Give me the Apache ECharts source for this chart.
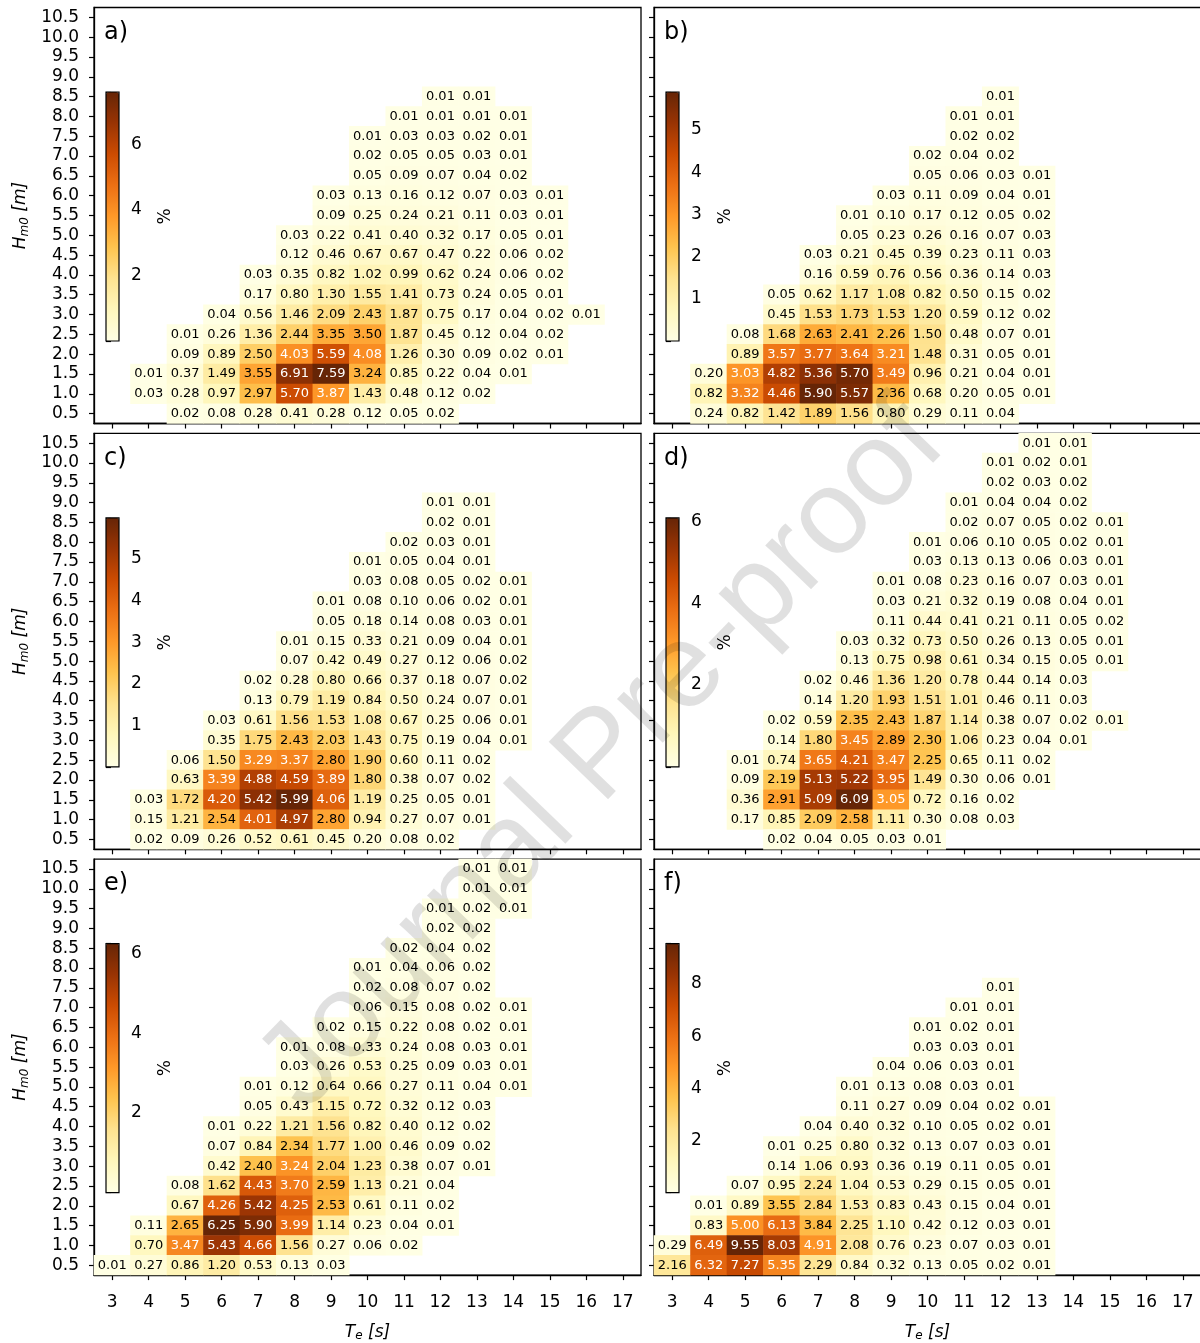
<!DOCTYPE html>
<html>
<head>
<meta charset="utf-8">
<title>Hm0 - Te occurrence</title>
<script src="https://cdn.jsdelivr.net/npm/echarts@6/dist/echarts.min.js"></script>
<style>
    html, body {margin: 0; padding: 0; background: #fff;}
    #chart {width: 1200px; height: 1343px;}
</style>
</head>
<body>
<div id="chart"></div>
<script>
// axes
var xLabels = ['3', '4', '5', '6', '7', '8', '9', '10', '11', '12', '13', '14', '15', '16', '17'];
var yLabels = ['0.5', '1.0', '1.5', '2.0', '2.5', '3.0', '3.5', '4.0', '4.5', '5.0',
    '5.5', '6.0', '6.5', '7.0', '7.5', '8.0', '8.5', '9.0', '9.5', '10.0', '10.5'];
var panelNames = ['a)', 'b)', 'c)', 'd)', 'e)', 'f)'];
var cbarSteps = [2, 1, 1, 2, 2, 2];

// rows: [Hm0, first Te of the row, occurrence % from that Te on]
var dataA = [
    [8.5, 12, [0.01, 0.01]],
    [8.0, 11, [0.01, 0.01, 0.01, 0.01]],
    [7.5, 10, [0.01, 0.03, 0.03, 0.02, 0.01]],
    [7.0, 10, [0.02, 0.05, 0.05, 0.03, 0.01]],
    [6.5, 10, [0.05, 0.09, 0.07, 0.04, 0.02]],
    [6.0, 9, [0.03, 0.13, 0.16, 0.12, 0.07, 0.03, 0.01]],
    [5.5, 9, [0.09, 0.25, 0.24, 0.21, 0.11, 0.03, 0.01]],
    [5.0, 8, [0.03, 0.22, 0.41, 0.40, 0.32, 0.17, 0.05, 0.01]],
    [4.5, 8, [0.12, 0.46, 0.67, 0.67, 0.47, 0.22, 0.06, 0.02]],
    [4.0, 7, [0.03, 0.35, 0.82, 1.02, 0.99, 0.62, 0.24, 0.06, 0.02]],
    [3.5, 7, [0.17, 0.80, 1.30, 1.55, 1.41, 0.73, 0.24, 0.05, 0.01]],
    [3.0, 6, [0.04, 0.56, 1.46, 2.09, 2.43, 1.87, 0.75, 0.17, 0.04, 0.02, 0.01]],
    [2.5, 5, [0.01, 0.26, 1.36, 2.44, 3.35, 3.50, 1.87, 0.45, 0.12, 0.04, 0.02]],
    [2.0, 5, [0.09, 0.89, 2.50, 4.03, 5.59, 4.08, 1.26, 0.30, 0.09, 0.02, 0.01]],
    [1.5, 4, [0.01, 0.37, 1.49, 3.55, 6.91, 7.59, 3.24, 0.85, 0.22, 0.04, 0.01]],
    [1.0, 4, [0.03, 0.28, 0.97, 2.97, 5.70, 3.87, 1.43, 0.48, 0.12, 0.02]],
    [0.5, 5, [0.02, 0.08, 0.28, 0.41, 0.28, 0.12, 0.05, 0.02]]
];
var dataB = [
    [8.5, 12, [0.01]],
    [8.0, 11, [0.01, 0.01]],
    [7.5, 11, [0.02, 0.02]],
    [7.0, 10, [0.02, 0.04, 0.02]],
    [6.5, 10, [0.05, 0.06, 0.03, 0.01]],
    [6.0, 9, [0.03, 0.11, 0.09, 0.04, 0.01]],
    [5.5, 8, [0.01, 0.10, 0.17, 0.12, 0.05, 0.02]],
    [5.0, 8, [0.05, 0.23, 0.26, 0.16, 0.07, 0.03]],
    [4.5, 7, [0.03, 0.21, 0.45, 0.39, 0.23, 0.11, 0.03]],
    [4.0, 7, [0.16, 0.59, 0.76, 0.56, 0.36, 0.14, 0.03]],
    [3.5, 6, [0.05, 0.62, 1.17, 1.08, 0.82, 0.50, 0.15, 0.02]],
    [3.0, 6, [0.45, 1.53, 1.73, 1.53, 1.20, 0.59, 0.12, 0.02]],
    [2.5, 5, [0.08, 1.68, 2.63, 2.41, 2.26, 1.50, 0.48, 0.07, 0.01]],
    [2.0, 5, [0.89, 3.57, 3.77, 3.64, 3.21, 1.48, 0.31, 0.05, 0.01]],
    [1.5, 4, [0.20, 3.03, 4.82, 5.36, 5.70, 3.49, 0.96, 0.21, 0.04, 0.01]],
    [1.0, 4, [0.82, 3.32, 4.46, 5.90, 5.57, 2.36, 0.68, 0.20, 0.05, 0.01]],
    [0.5, 4, [0.24, 0.82, 1.42, 1.89, 1.56, 0.80, 0.29, 0.11, 0.04]]
];
var dataC = [
    [9.0, 12, [0.01, 0.01]],
    [8.5, 12, [0.02, 0.01]],
    [8.0, 11, [0.02, 0.03, 0.01]],
    [7.5, 10, [0.01, 0.05, 0.04, 0.01]],
    [7.0, 10, [0.03, 0.08, 0.05, 0.02, 0.01]],
    [6.5, 9, [0.01, 0.08, 0.10, 0.06, 0.02, 0.01]],
    [6.0, 9, [0.05, 0.18, 0.14, 0.08, 0.03, 0.01]],
    [5.5, 8, [0.01, 0.15, 0.33, 0.21, 0.09, 0.04, 0.01]],
    [5.0, 8, [0.07, 0.42, 0.49, 0.27, 0.12, 0.06, 0.02]],
    [4.5, 7, [0.02, 0.28, 0.80, 0.66, 0.37, 0.18, 0.07, 0.02]],
    [4.0, 7, [0.13, 0.79, 1.19, 0.84, 0.50, 0.24, 0.07, 0.01]],
    [3.5, 6, [0.03, 0.61, 1.56, 1.53, 1.08, 0.67, 0.25, 0.06, 0.01]],
    [3.0, 6, [0.35, 1.75, 2.43, 2.03, 1.43, 0.75, 0.19, 0.04, 0.01]],
    [2.5, 5, [0.06, 1.50, 3.29, 3.37, 2.80, 1.90, 0.60, 0.11, 0.02]],
    [2.0, 5, [0.63, 3.39, 4.88, 4.59, 3.89, 1.80, 0.38, 0.07, 0.02]],
    [1.5, 4, [0.03, 1.72, 4.20, 5.42, 5.99, 4.06, 1.19, 0.25, 0.05, 0.01]],
    [1.0, 4, [0.15, 1.21, 2.54, 4.01, 4.97, 2.80, 0.94, 0.27, 0.07, 0.01]],
    [0.5, 4, [0.02, 0.09, 0.26, 0.52, 0.61, 0.45, 0.20, 0.08, 0.02]]
];
var dataD = [
    [10.5, 13, [0.01, 0.01]],
    [10.0, 12, [0.01, 0.02, 0.01]],
    [9.5, 12, [0.02, 0.03, 0.02]],
    [9.0, 11, [0.01, 0.04, 0.04, 0.02]],
    [8.5, 11, [0.02, 0.07, 0.05, 0.02, 0.01]],
    [8.0, 10, [0.01, 0.06, 0.10, 0.05, 0.02, 0.01]],
    [7.5, 10, [0.03, 0.13, 0.13, 0.06, 0.03, 0.01]],
    [7.0, 9, [0.01, 0.08, 0.23, 0.16, 0.07, 0.03, 0.01]],
    [6.5, 9, [0.03, 0.21, 0.32, 0.19, 0.08, 0.04, 0.01]],
    [6.0, 9, [0.11, 0.44, 0.41, 0.21, 0.11, 0.05, 0.02]],
    [5.5, 8, [0.03, 0.32, 0.73, 0.50, 0.26, 0.13, 0.05, 0.01]],
    [5.0, 8, [0.13, 0.75, 0.98, 0.61, 0.34, 0.15, 0.05, 0.01]],
    [4.5, 7, [0.02, 0.46, 1.36, 1.20, 0.78, 0.44, 0.14, 0.03]],
    [4.0, 7, [0.14, 1.20, 1.93, 1.51, 1.01, 0.46, 0.11, 0.03]],
    [3.5, 6, [0.02, 0.59, 2.35, 2.43, 1.87, 1.14, 0.38, 0.07, 0.02, 0.01]],
    [3.0, 6, [0.14, 1.80, 3.45, 2.89, 2.30, 1.06, 0.23, 0.04, 0.01]],
    [2.5, 5, [0.01, 0.74, 3.65, 4.21, 3.47, 2.25, 0.65, 0.11, 0.02]],
    [2.0, 5, [0.09, 2.19, 5.13, 5.22, 3.95, 1.49, 0.30, 0.06, 0.01]],
    [1.5, 5, [0.36, 2.91, 5.09, 6.09, 3.05, 0.72, 0.16, 0.02]],
    [1.0, 5, [0.17, 0.85, 2.09, 2.58, 1.11, 0.30, 0.08, 0.03]],
    [0.5, 6, [0.02, 0.04, 0.05, 0.03, 0.01]]
];
var dataE = [
    [10.5, 13, [0.01, 0.01]],
    [10.0, 13, [0.01, 0.01]],
    [9.5, 12, [0.01, 0.02, 0.01]],
    [9.0, 12, [0.02, 0.02]],
    [8.5, 11, [0.02, 0.04, 0.02]],
    [8.0, 10, [0.01, 0.04, 0.06, 0.02]],
    [7.5, 10, [0.02, 0.08, 0.07, 0.02]],
    [7.0, 10, [0.06, 0.15, 0.08, 0.02, 0.01]],
    [6.5, 9, [0.02, 0.15, 0.22, 0.08, 0.02, 0.01]],
    [6.0, 8, [0.01, 0.08, 0.33, 0.24, 0.08, 0.03, 0.01]],
    [5.5, 8, [0.03, 0.26, 0.53, 0.25, 0.09, 0.03, 0.01]],
    [5.0, 7, [0.01, 0.12, 0.64, 0.66, 0.27, 0.11, 0.04, 0.01]],
    [4.5, 7, [0.05, 0.43, 1.15, 0.72, 0.32, 0.12, 0.03]],
    [4.0, 6, [0.01, 0.22, 1.21, 1.56, 0.82, 0.40, 0.12, 0.02]],
    [3.5, 6, [0.07, 0.84, 2.34, 1.77, 1.00, 0.46, 0.09, 0.02]],
    [3.0, 6, [0.42, 2.40, 3.24, 2.04, 1.23, 0.38, 0.07, 0.01]],
    [2.5, 5, [0.08, 1.62, 4.43, 3.70, 2.59, 1.13, 0.21, 0.04]],
    [2.0, 5, [0.67, 4.26, 5.42, 4.25, 2.53, 0.61, 0.11, 0.02]],
    [1.5, 4, [0.11, 2.65, 6.25, 5.90, 3.99, 1.14, 0.23, 0.04, 0.01]],
    [1.0, 4, [0.70, 3.47, 5.43, 4.66, 1.56, 0.27, 0.06, 0.02]],
    [0.5, 3, [0.01, 0.27, 0.86, 1.20, 0.53, 0.13, 0.03]]
];
var dataF = [
    [7.5, 12, [0.01]],
    [7.0, 11, [0.01, 0.01]],
    [6.5, 10, [0.01, 0.02, 0.01]],
    [6.0, 10, [0.03, 0.03, 0.01]],
    [5.5, 9, [0.04, 0.06, 0.03, 0.01]],
    [5.0, 8, [0.01, 0.13, 0.08, 0.03, 0.01]],
    [4.5, 8, [0.11, 0.27, 0.09, 0.04, 0.02, 0.01]],
    [4.0, 7, [0.04, 0.40, 0.32, 0.10, 0.05, 0.02, 0.01]],
    [3.5, 6, [0.01, 0.25, 0.80, 0.32, 0.13, 0.07, 0.03, 0.01]],
    [3.0, 6, [0.14, 1.06, 0.93, 0.36, 0.19, 0.11, 0.05, 0.01]],
    [2.5, 5, [0.07, 0.95, 2.24, 1.04, 0.53, 0.29, 0.15, 0.05, 0.01]],
    [2.0, 4, [0.01, 0.89, 3.55, 2.84, 1.53, 0.83, 0.43, 0.15, 0.04, 0.01]],
    [1.5, 4, [0.83, 5.00, 6.13, 3.84, 2.25, 1.10, 0.42, 0.12, 0.03, 0.01]],
    [1.0, 3, [0.29, 6.49, 9.55, 8.03, 4.91, 2.08, 0.76, 0.23, 0.07, 0.03, 0.01]],
    [0.5, 3, [2.16, 6.32, 7.27, 5.35, 2.29, 0.84, 0.32, 0.13, 0.05, 0.02, 0.01]]
];
var panels = [dataA, dataB, dataC, dataD, dataE, dataF];

// matplotlib YlOrBr
var ylorbr = ['#ffffe5', '#fff7bc', '#fee391', '#fec44f', '#fe9929', '#ec7014', '#cc4c02', '#993404', '#662506'];

var FONT = 'DejaVu Sans';
var colLeft = [94, 654];
var colWidth = [547, 547];
var rowTop = [7.5, 433.3, 859.1];
var panelH = 416;

function panelMax(rows) {
    var m = 0;
    rows.forEach(function (r) {
        r[2].forEach(function (v) { if (v > m) m = v; });
    });
    return m;
}

function toCells(rows, vmax) {
    var out = [];
    rows.forEach(function (r) {
        var yi = yLabels.indexOf(r[0].toFixed(1));
        var x0 = xLabels.indexOf(String(r[1]));
        r[2].forEach(function (v, j) {
            out.push({
                value: [x0 + j, yi, v],
                label: {color: v > vmax / 2 ? '#fff' : '#000'}
            });
        });
    });
    return out;
}

function richName() {
    return {
        color: '#000', fontSize: 17, fontFamily: FONT,
        rich: {
            it: {fontStyle: 'italic', fontSize: 17, fontFamily: FONT, color: '#000'},
            sub: {fontStyle: 'italic', fontSize: 12, fontFamily: FONT, color: '#000', padding: [8, 0, 0, 0]}
        }
    };
}

function cbarFormatter(step, vmax) {
    return function (v) {
        var k = v / step;
        return (v > 0 && v < vmax && Math.abs(k - Math.round(k)) < 1e-6) ? String(v) : '';
    };
}

function tickStyle() {
    return {show: true, alignWithLabel: true, interval: 0, inside: false, length: 5,
        lineStyle: {color: '#000', width: 1.2}};
}

function buildOption() {
    var grids = [], xAxes = [], yAxes = [], series = [], visualMaps = [], graphics = [];
    var cbGrids = [], cbX = [], cbY = [];

    for (var p = 0; p < 6; p++) {
        var col = p % 2, row = Math.floor(p / 2);
        var pLeft = colLeft[col], pTop = rowTop[row];
        var vmax = panelMax(panels[p]);

        grids.push({
            left: pLeft, top: pTop, width: colWidth[col], height: panelH,
            outerBoundsMode: 'none',
            show: true, borderColor: '#000', borderWidth: 1.3, backgroundColor: 'transparent'
        });
        xAxes.push({
            type: 'category', gridIndex: p, data: xLabels, position: 'bottom',
            axisLine: {show: true, lineStyle: {color: '#000', width: 1.3}},
            axisTick: tickStyle(),
            axisLabel: {show: row === 2, interval: 0, fontSize: 17, color: '#000', fontFamily: FONT, margin: 19},
            splitLine: {show: false},
            name: row === 2 ? '{it|T}{sub|e}{it| [s]}' : '',
            nameLocation: 'middle', nameGap: 47,
            nameTextStyle: richName()
        });
        yAxes.push({
            type: 'category', gridIndex: p, data: yLabels, position: 'left',
            axisLine: {show: true, lineStyle: {color: '#000', width: 1.3}},
            axisTick: tickStyle(),
            axisLabel: {show: col === 0, interval: 0, fontSize: 17, color: '#000', fontFamily: FONT, margin: 15},
            splitLine: {show: false},
            name: col === 0 ? '{it|H}{sub|m0}{it| [m]}' : '',
            nameLocation: 'middle', nameGap: 63,
            nameTextStyle: richName()
        });
        series.push({
            type: 'heatmap', xAxisIndex: p, yAxisIndex: p,
            data: toCells(panels[p], vmax),
            label: {
                show: true, fontSize: 13, fontFamily: FONT,
                formatter: function (d) { return d.value[2].toFixed(2); }
            },
            itemStyle: {borderWidth: 0}
        });

        // colorbar
        var cbLeft = pLeft + 12, cbTop = pTop + 84.5, cbW = 13, cbH = 249;
        visualMaps.push({
            type: 'continuous', seriesIndex: p, dimension: 2,
            min: 0, max: vmax, calculable: false,
            orient: 'vertical', left: cbLeft, top: cbTop,
            itemWidth: cbW, itemHeight: cbH, padding: 0,
            inRange: {color: ylorbr.slice()}
        });
        cbGrids.push({
            left: cbLeft, top: cbTop, width: cbW, height: cbH,
            outerBoundsMode: 'none',
            show: true, borderColor: '#000', borderWidth: 1.2, backgroundColor: 'transparent', z: 10
        });
        cbX.push({type: 'value', gridIndex: 6 + p, show: false, min: 0, max: 1});
        cbY.push({
            type: 'value', gridIndex: 6 + p, position: 'right', min: 0, max: vmax, interval: cbarSteps[p],
            axisLine: {show: false},
            axisTick: {show: true, inside: false, length: 5, lineStyle: {color: '#000', width: 1.2}},
            axisLabel: {
                show: true, fontSize: 17, color: '#000', fontFamily: FONT, margin: 12,
                formatter: cbarFormatter(cbarSteps[p], vmax)
            },
            splitLine: {show: false},
            name: '%', nameLocation: 'middle', nameGap: 38, nameRotate: 90,
            nameTextStyle: {fontSize: 17, color: '#000', fontFamily: FONT}
        });

        graphics.push({
            type: 'text', left: pLeft + 10, top: pTop + 13, silent: true,
            style: {text: panelNames[p], fontSize: 24, fontFamily: FONT, fill: '#000'}
        });
    }

    // watermark
    graphics.push({
        type: 'text', x: 603, y: 757, rotation: 46 * Math.PI / 180, z: 100, silent: true,
        style: {
            text: 'Journal Pre-proof', fontSize: 120, fontFamily: 'Liberation Sans',
            fill: 'rgba(0,0,0,0.12)', align: 'center', verticalAlign: 'middle'
        }
    });

    return {
        animation: false,
        textStyle: {fontFamily: FONT},
        grid: grids.concat(cbGrids),
        xAxis: xAxes.concat(cbX),
        yAxis: yAxes.concat(cbY),
        visualMap: visualMaps,
        series: series,
        graphic: graphics
    };
}

var chart = echarts.init(document.getElementById('chart'));
chart.setOption(buildOption());
</script>
</body>
</html>
